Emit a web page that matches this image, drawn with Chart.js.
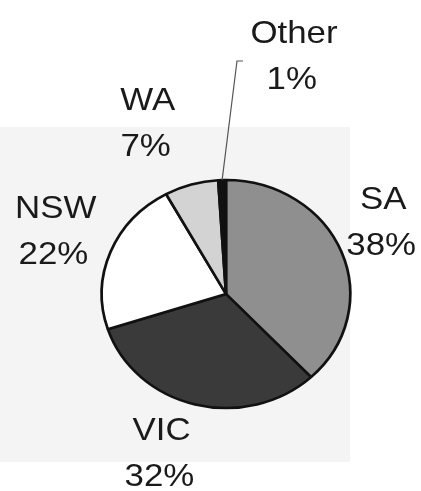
<!DOCTYPE html>
<html>
<head>
<meta charset="utf-8">
<script src="https://cdn.jsdelivr.net/npm/chart.js@4/dist/chart.umd.min.js"></script>
<style>
  html, body { margin: 0; padding: 0; background: #ffffff; }
  #wrap { position: relative; width: 421px; height: 491px; }
</style>
</head>
<body>
<div id="wrap"><canvas id="c" width="421" height="491"></canvas></div>
<script>
// ---- data ----
const categories = ['SA', 'VIC', 'NSW', 'WA', 'Other'];
const shares = [38, 32, 22, 7, 1];
const sliceColors = ['#8f8f8f', '#3a3a3a', '#ffffff', '#d3d3d3', '#111111'];

// ---- label layout (style only): radial distance and nudges ----
const labelDist = 175;
const labelNudge = [[-20, -9], [-17, -12], [7, 0], [-25, -4], [74, -65]];
const xStretch = 1.09; // scanned picture is slightly wider than tall

const stretchPlugin = {
  id: 'stretch',
  beforeDraw(chart) {
    const ctx = chart.ctx;
    ctx.save();
    ctx.fillStyle = '#f4f4f4';
    ctx.fillRect(0, 127, 350, 335);
    ctx.restore();
  },
  beforeDatasetsDraw(chart) {
    const arc = chart.getDatasetMeta(0).data[0];
    const ctx = chart.ctx;
    ctx.save();
    ctx.translate(arc.x, arc.y);
    ctx.scale(xStretch, 1);
    ctx.translate(-arc.x, -arc.y);
  },
  afterDatasetsDraw(chart) {
    chart.ctx.restore();
  },
  afterDraw(chart) {
    const ctx = chart.ctx;
    const meta = chart.getDatasetMeta(0);
    meta.data.forEach((arc, i) => {
      const mid = (arc.startAngle + arc.endAngle) / 2;
      const cx = arc.x + Math.cos(mid) * labelDist * xStretch + labelNudge[i][0];
      const cy = arc.y + Math.sin(mid) * labelDist + labelNudge[i][1];
      const y1 = cy - 11.5;
      ctx.save();
      ctx.translate(cx, 0);
      ctx.scale(xStretch, 1);
      ctx.font = '32px "Liberation Sans", Arial, sans-serif';
      ctx.fillStyle = '#1a1a1a';
      ctx.textAlign = 'center';
      ctx.textBaseline = 'alphabetic';
      ctx.fillText(categories[i], 0, y1);
      ctx.fillText(shares[i] + '%', -2, y1 + 46);
      ctx.restore();
      if (categories[i] === 'Other') {
        const ex = arc.x + Math.cos(mid) * arc.outerRadius * xStretch;
        const ey = arc.y + Math.sin(mid) * arc.outerRadius;
        ctx.save();
        ctx.strokeStyle = '#555555';
        ctx.lineWidth = 1.2;
        ctx.beginPath();
        ctx.moveTo(ex, ey);
        ctx.lineTo(arc.x + 11, arc.y - 233);
        ctx.lineTo(arc.x + 17, arc.y - 233);
        ctx.stroke();
        ctx.restore();
      }
    });
  }
};

new Chart(document.getElementById('c'), {
  type: 'pie',
  data: {
    labels: categories,
    datasets: [{
      data: shares,
      backgroundColor: sliceColors,
      borderColor: '#111111',
      borderWidth: 2.5,
      borderAlign: 'center'
    }]
  },
  options: {
    responsive: false,
    animation: false,
    radius: 114,
    layout: { padding: { left: 91, right: 60, top: 157, bottom: 60 } },
    plugins: {
      legend: { display: false },
      tooltip: { enabled: false }
    }
  },
  plugins: [stretchPlugin]
});
</script>
</body>
</html>
